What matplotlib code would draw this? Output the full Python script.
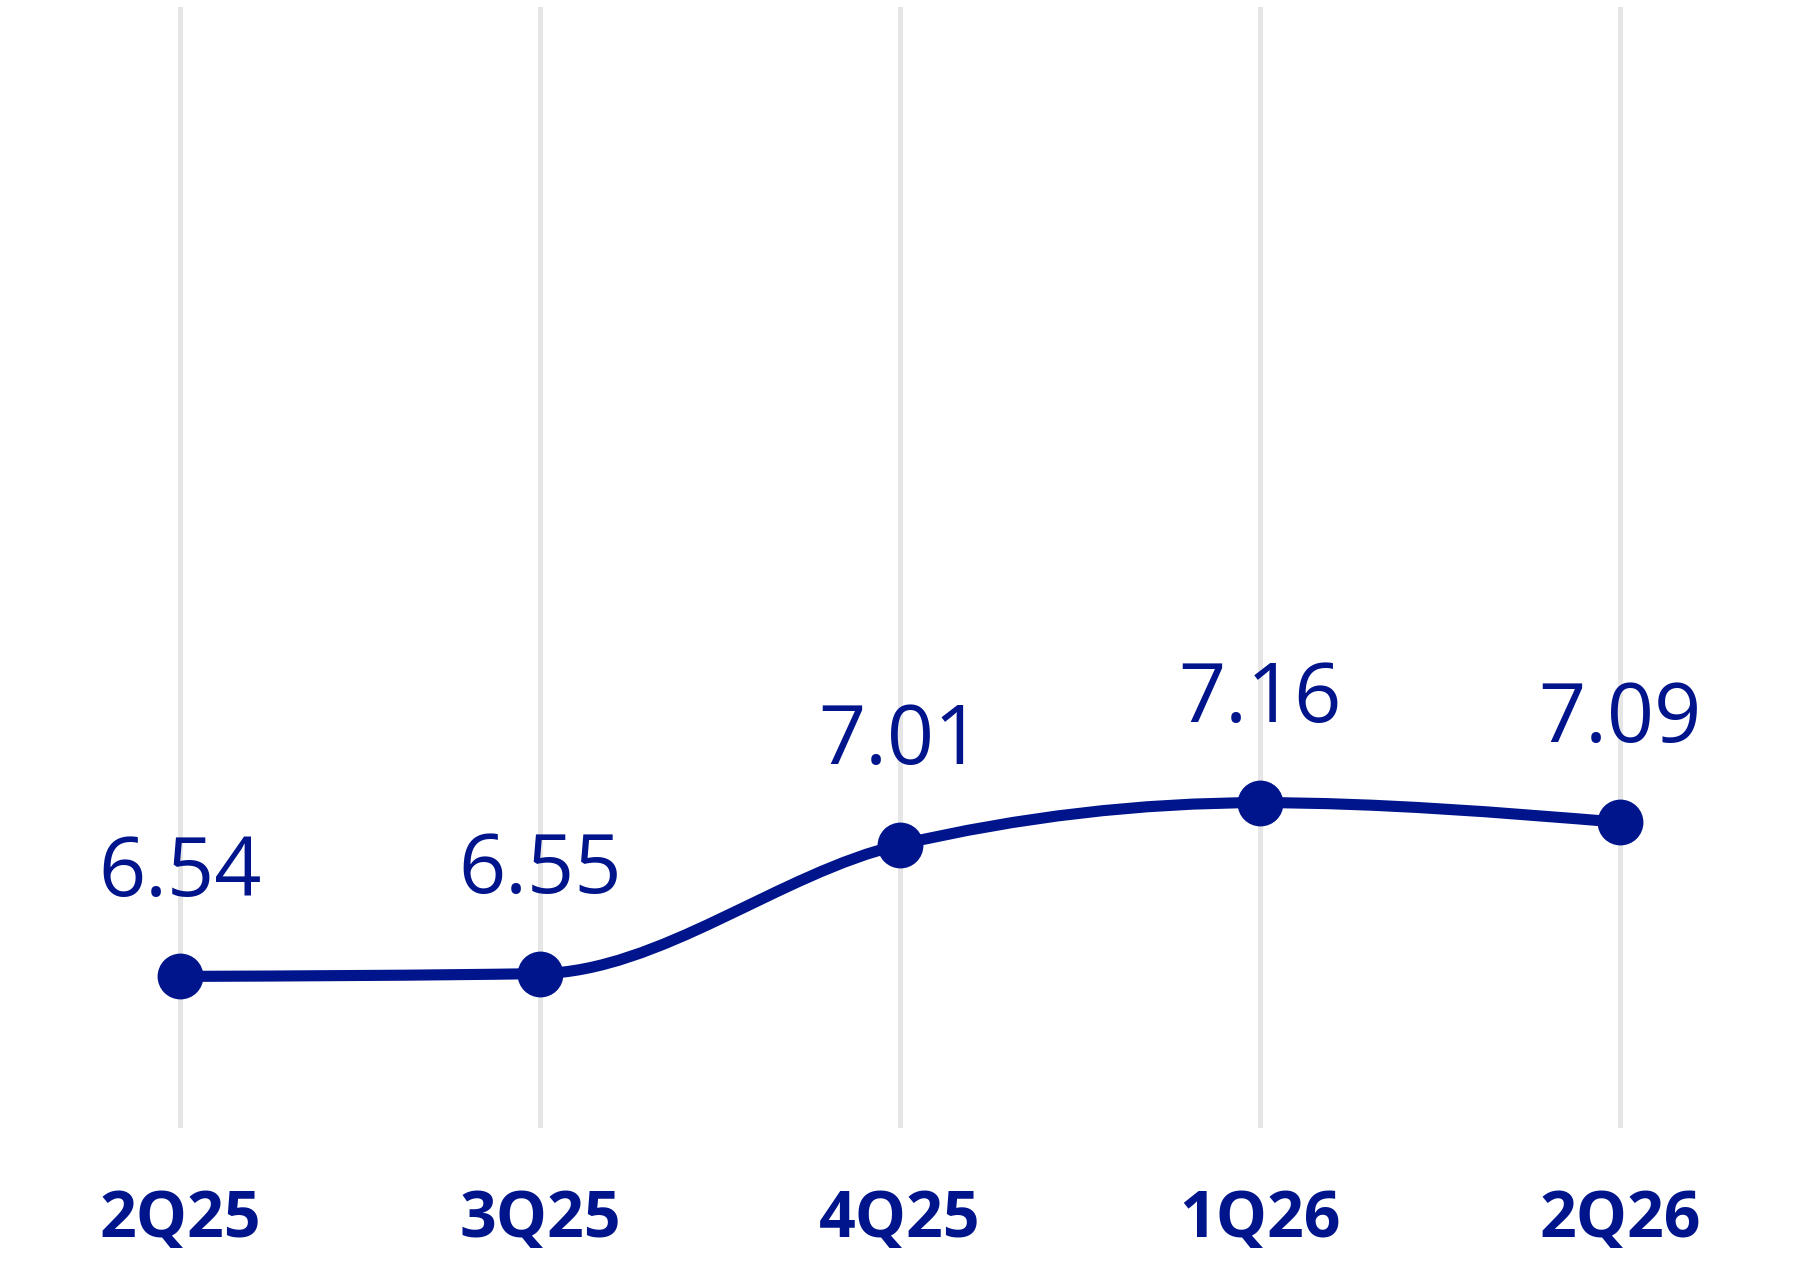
import numpy as np
import matplotlib
matplotlib.use("Agg")
import matplotlib.pyplot as plt
from matplotlib.path import Path
from matplotlib.patches import PathPatch

quarters = ["2Q25", "3Q25", "4Q25", "1Q26", "2Q26"]
values = [6.54, 6.55, 7.01, 7.16, 7.09]
value_labels = ["6.54", "6.55", "7.01", "7.16", "7.09"]

NAVY = "#00148C"
GRID = "#E6E6E6"

plt.rcParams["font.family"] = ["Open Sans", "DejaVu Sans"]

fig = plt.figure(figsize=(18, 12.66), dpi=100)
ax = fig.add_axes([0.0, 0.10925, 1.0, 0.88522])
ax.set_xlim(-0.5, 4.5)
ax.set_ylim(6, 10)

x = np.arange(len(values), dtype=float)
y = np.array(values, dtype=float)

# monotone-X cubic (d3 style) tangents
n = len(x)
t = np.zeros(n)
for i in range(1, n - 1):
    h0 = x[i] - x[i - 1]
    h1 = x[i + 1] - x[i]
    s0 = (y[i] - y[i - 1]) / h0
    s1 = (y[i + 1] - y[i]) / h1
    p = (s0 * h1 + s1 * h0) / (h0 + h1)
    t[i] = (np.sign(s0) + np.sign(s1)) * min(abs(s0), abs(s1), 0.5 * abs(p))
t[0] = (3 * (y[1] - y[0]) / (x[1] - x[0]) - t[1]) / 2
t[-1] = (3 * (y[-1] - y[-2]) / (x[-1] - x[-2]) - t[-2]) / 2

verts = [(x[0], y[0])]
codes = [Path.MOVETO]
for i in range(n - 1):
    dx = (x[i + 1] - x[i]) / 3
    verts += [(x[i] + dx, y[i] + dx * t[i]),
              (x[i + 1] - dx, y[i + 1] - dx * t[i + 1]),
              (x[i + 1], y[i + 1])]
    codes += [Path.CURVE4] * 3
path = Path(verts, codes)
ax.add_patch(PathPatch(path, facecolor="none", edgecolor=NAVY, lw=8,
                       capstyle="butt", zorder=3))

ax.plot(x, y, linestyle="none", marker="o", markersize=33,
        color=NAVY, markeredgewidth=0, zorder=4)

for xi in x:
    ax.axvline(xi, color=GRID, lw=3.6, zorder=1)

for xi, yi, lab in zip(x, y, value_labels):
    ax.annotate(lab, (xi, yi), xytext=(0, 58), textcoords="offset points",
                ha="center", va="baseline", fontsize=59.5, color=NAVY,
                fontweight="medium", zorder=5)

ax.set_xticks(x, labels=quarters)
ax.tick_params(axis="x", length=0, pad=78.7, labelsize=46.4,
               labelcolor=NAVY)
for lbl in ax.get_xticklabels():
    lbl.set_fontweight("bold")
    lbl.set_va("baseline")
ax.set_yticks([])
for s in ax.spines.values():
    s.set_visible(False)
ax.patch.set_alpha(0)

fig.savefig("out.png", dpi=100, facecolor="white")
